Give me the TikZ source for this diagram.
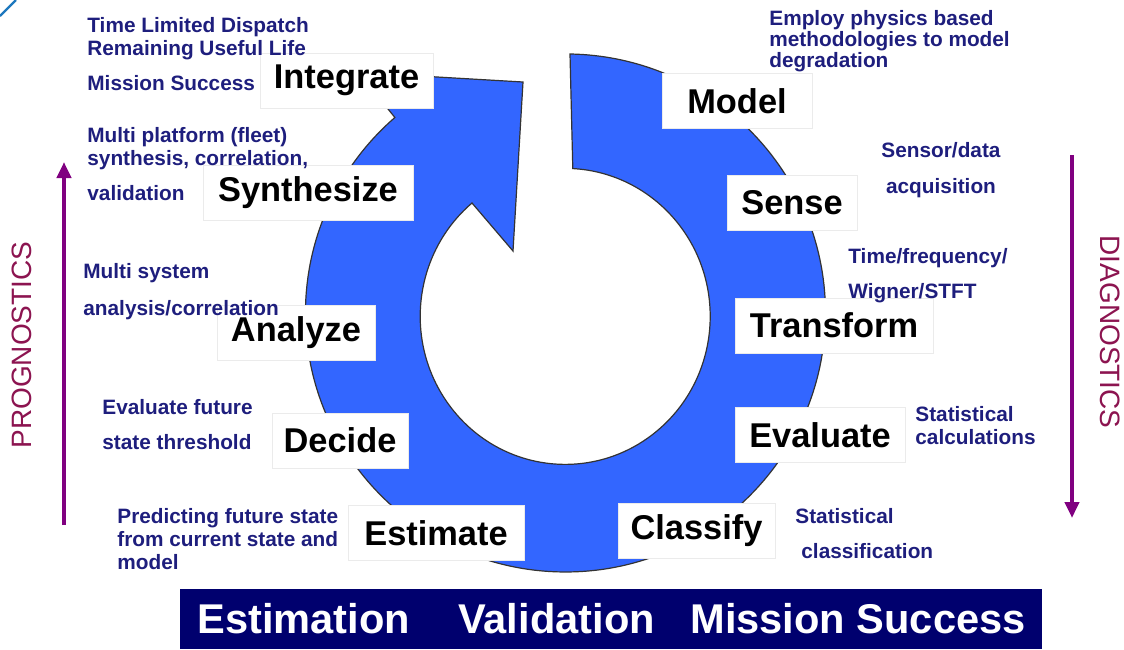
\documentclass[tikz,border=0pt]{standalone}
\usepackage{fontspec}
\setmainfont{Liberation Sans}
\usetikzlibrary{arrows.meta}
\definecolor{ringblue}{RGB}{51,102,255}
\definecolor{descblue}{RGB}{30,30,125}
\definecolor{bannerblue}{RGB}{0,0,110}
\definecolor{arrowpurple}{RGB}{128,0,128}
\definecolor{sidered}{RGB}{140,20,80}
\definecolor{cornerblue}{RGB}{30,120,190}
\newcommand{\stepfont}{\fontsize{17.2}{20}\selectfont\bfseries}
\newcommand{\descfont}{\fontsize{10.4}{11.5}\selectfont\bfseries}
\tikzset{stepbox/.style={fill=white, draw=black!8, font=\stepfont, minimum height=27.5pt, inner sep=0pt},
 desc/.style={font=\descfont, text=descblue, align=left, anchor=base west, inner sep=0pt},
 side/.style={font=\fontsize{14}{16}\selectfont, text=sidered, inner sep=0pt},
 updown/.style={draw=arrowpurple, line width=2pt, -{Triangle[length=8pt,width=7pt]}},
 bannertxt/.style={font=\fontsize{20.8}{24}\selectfont\bfseries, text=white, anchor=base west, inner sep=0pt},
 }

\begin{document}
\begin{tikzpicture}[x=0.5pt, y=-0.5pt]
        \useasboundingbox (0,0) rectangle (1124,649);
        \draw[cornerblue, line width=1.2pt] (0,16) -- (16,0);

        % the cycle
        \filldraw[fill=ringblue, draw=black!80, line width=0.6pt]
          (570,54) arc[start angle=-89, end angle=229, x radius=260, y radius=259]
          -- (384,104) -- (420,76) -- (523,82) -- (513,251) -- (472,203)
          arc[start angle=230, end angle=-87, x radius=145, y radius=148] -- cycle;

        % steps
        \node[stepbox, minimum width=86.5pt] (integrate) at (346.5,80.5) {Integrate};
        \node[stepbox, minimum width=105pt] (synthesize) at (308,192.5) {Synthesize};
        \node[stepbox, minimum width=79pt] (analyze) at (296,332.5) {Analyze};
        \node[stepbox, minimum width=68pt] (decide) at (340,440.5) {Decide};
        \node[stepbox, minimum width=88pt] (estimate) at (436,533) {Estimate};
        \node[stepbox, minimum width=78.5pt] (classify) at (696.5,530.5) {Classify};
        \node[stepbox, minimum width=85pt] (evaluate) at (820,435) {Evaluate};
        \node[stepbox, minimum width=99pt] (transform) at (834,325.5) {Transform};
        \node[stepbox, minimum width=65pt] (sense) at (792,202.5) {Sense};
        \node[stepbox, minimum width=75pt] (model) at (737,101) {Model};

        % what each step does (placed by the last line)
        \node[desc] (dispatch) at (87,90) {Time Limited Dispatch\\Remaining Useful Life\\[6pt]Mission Success};
        \node[desc] (fleet) at (87,200) {Multi platform (fleet)\\synthesis, correlation,\\[6pt]validation};
        \node[desc] (multisys) at (83,315) {Multi system\\[7pt]analysis/correlation};
        \node[desc] (future) at (102,449) {Evaluate future\\[6pt]state threshold};
        \node[desc] (predict) at (117,569) {Predicting future state\\from current state and\\model};
        \node[desc] (physics) at (769,67) {Employ physics based\\[-1pt]methodologies to model\\[-1pt]degradation};
        \node[desc, align=center, anchor=base] (sensor) at (941,193) {Sensor/data\\[6.5pt]acquisition};
        \node[desc] (timefreq) at (848,298) {Time/frequency/\\[6pt]Wigner/STFT};
        \node[desc] (statcalc) at (915,444) {Statistical\\calculations};
        \node[desc] (statclass) at (795,558) {Statistical\\[6pt]\hspace*{3pt}classification};

        % prognostics / diagnostics
        \coordinate (progfoot) at (64,525);
        \coordinate (progtip) at (64,162);
        \draw[updown] (progfoot) -- (progtip);
        \node[side, rotate=90] (prog) at (22,345) {PROGNOSTICS};
        \coordinate (diaghead) at (1072,155);
        \coordinate (diagtip) at (1072,518);
        \draw[updown] (diaghead) -- (diagtip);
        \node[side, rotate=-90] (diag) at (1110,332) {DIAGNOSTICS};

        % banner
        \node[fill=bannerblue, minimum width=431pt, minimum height=30pt, anchor=north west, inner sep=0pt] (banner) at (180,589) {};
        \node[bannertxt] (estimation) at (197,633) {Estimation};
        \node[bannertxt] (validation) at (458,633) {Validation};
        \node[bannertxt] (success) at (690,633) {Mission Success};
\end{tikzpicture}
\end{document}
